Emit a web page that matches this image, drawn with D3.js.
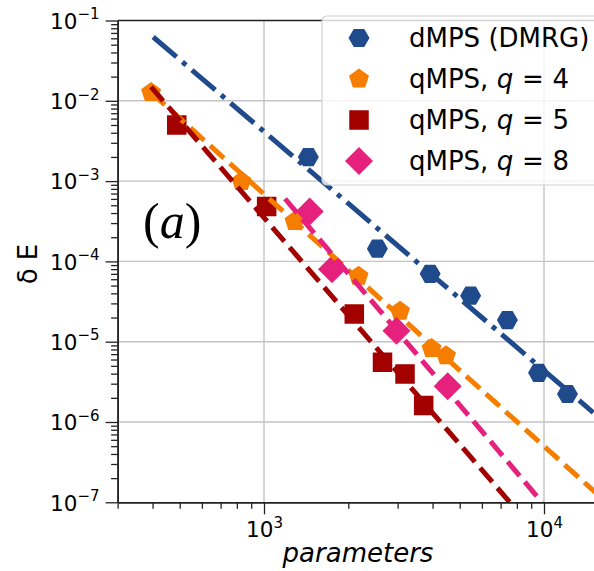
<!DOCTYPE html>
<html>
<head>
<meta charset="utf-8">
<script src="https://cdn.jsdelivr.net/npm/d3@7"></script>
<style>
  body { margin: 0; background: #fff; }
  text { font-family: "DejaVu Sans", sans-serif; fill: #000; }
</style>
</head>
<body>
<div id="chart"></div>
<script>
// values
var dmpsParams = [1440, 2540, 3920, 5470, 7400, 9560, 12130]
var dmpsErr = [1.99e-3, 1.44e-4, 7.0e-5, 3.74e-5, 1.86e-5, 4.1e-6, 2.23e-6]
var q4Params = [395, 831, 1285, 2176, 3060, 3966, 4467]
var q4Err = [1.27e-2, 9.9e-4, 3.15e-4, 6.55e-5, 2.4e-5, 8.2e-6, 6.7e-6]
var q5Params = [488, 1022, 2101, 2650, 3189, 3718]
var q5Err = [5.0e-3, 4.83e-4, 2.22e-5, 5.54e-6, 3.95e-6, 1.6e-6]
var q8Params = [1456, 1749, 2973, 4530]
var q8Err = [4.19e-4, 8.0e-5, 1.37e-5, 2.79e-6]

// power-law fits, as two end points each
var dmpsFitParams = [402, 15000], dmpsFitErr = [6.23e-2, 1.31e-6]
var q4FitParams = [395, 16700], q4FitErr = [1.27e-2, 1e-7]
var q5FitParams = [395, 7550], q5FitErr = [1.49e-2, 1e-7]
var q8FitParams = [1189, 9840], q8FitErr = [6.03e-4, 1e-7]

var yMajor = [1e-1, 1e-2, 1e-3, 1e-4, 1e-5, 1e-6, 1e-7]
var yExp = ["\u22121", "\u22122", "\u22123", "\u22124", "\u22125", "\u22126", "\u22127"]
var xMajor = [1e3, 1e4]
var xExp = ["3", "4"]

var series = [
  { label: "dMPS (DMRG)", q: null, shape: "hexagon", color: "#1f4a8c",
    px: dmpsParams, err: dmpsErr, fitX: dmpsFitParams, fitY: dmpsFitErr, dash: "30.7 7.7 4.8 7.7" },
  { label: "qMPS, ", q: "4", shape: "pentagon", color: "#f57d00",
    px: q4Params, err: q4Err, fitX: q4FitParams, fitY: q4FitErr, dash: "18.5 8" },
  { label: "qMPS, ", q: "5", shape: "square", color: "#a30000",
    px: q5Params, err: q5Err, fitX: q5FitParams, fitY: q5FitErr, dash: "18.5 8" },
  { label: "qMPS, ", q: "8", shape: "diamond", color: "#e6207d",
    px: q8Params, err: q8Err, fitX: q8FitParams, fitY: q8FitErr, dash: "18.5 8" }
]

var W = 594, H = 571
var margin = { top: 20.5, left: 117.6, bottom: 502.3 }

var svg = d3.select("#chart").append("svg")
  .attr("width", W).attr("height", H)

var x = d3.scaleLog().domain([300, 20000])
  .range([margin.left, margin.left + 280 * Math.log10(20000 / 300)])
var y = d3.scaleLog().domain([1e-7, 1e-1]).range([margin.bottom, margin.top])

var plotRight = x.range()[1]

svg.append("clipPath").attr("id", "plotclip")
  .append("rect")
  .attr("x", margin.left).attr("y", margin.top)
  .attr("width", plotRight - margin.left).attr("height", margin.bottom - margin.top)

// minor ticks
var minorY = []
for (var k = -7; k < -1; k++) for (var m = 2; m <= 9; m++) minorY.push(m * Math.pow(10, k))
var minorX = []
for (var k = 2; k < 5; k++) for (var m = 2; m <= 9; m++) {
  var v = m * Math.pow(10, k)
  if (v >= 300 && v <= 20000) minorX.push(v)
}

// grid
var grid = svg.append("g")
grid.selectAll(".gy").data(yMajor.slice(1, -1)).enter().append("line")
  .attr("x1", margin.left).attr("x2", plotRight)
  .attr("y1", function (d) { return y(d) }).attr("y2", function (d) { return y(d) })
  .style("stroke", "#c4c4c4").style("stroke-width", 1.4)
grid.selectAll(".gx").data(xMajor).enter().append("line")
  .attr("y1", margin.top).attr("y2", margin.bottom)
  .attr("x1", function (d) { return x(d) }).attr("x2", function (d) { return x(d) })
  .style("stroke", "#c4c4c4").style("stroke-width", 1.4)

// marker shapes
function shapePath(shape) {
  var n, r, a0
  if (shape === "hexagon") { n = 6; r = 10.5; a0 = 0 }
  else if (shape === "pentagon") { n = 5; r = 10.5; a0 = -Math.PI / 2 }
  else if (shape === "square") { n = 4; r = 13.8; a0 = Math.PI / 4 }
  else { n = 4; r = 14; a0 = 0 }
  var pts = d3.range(n).map(function (i) {
    var a = a0 + i * 2 * Math.PI / n
    return [r * Math.cos(a), r * Math.sin(a)]
  })
  return "M" + pts.join("L") + "Z"
}

var plot = svg.append("g").attr("clip-path", "url(#plotclip)")

series.forEach(function (s) {
  plot.append("g").selectAll("path").data(d3.zip(s.px, s.err)).enter().append("path")
    .attr("d", shapePath(s.shape))
    .attr("transform", function (d) { return "translate(" + x(d[0]) + "," + y(d[1]) + ")" })
    .style("fill", s.color)
})

var line = d3.line().x(function (d) { return x(d[0]) }).y(function (d) { return y(d[1]) })
series.forEach(function (s) {
  plot.append("path")
    .attr("d", line(d3.zip(s.fitX, s.fitY)))
    .style("fill", "none").style("stroke", s.color)
    .style("stroke-width", 5).style("stroke-dasharray", s.dash)
})

// axes
function customAxis(g) {
  g.select(".domain").style("stroke", "#222").style("stroke-width", 1.5)
  g.selectAll(".tick line").style("stroke", "#222").style("stroke-width", 1.3)
}

svg.append("g").attr("transform", "translate(" + margin.left + ",0)")
  .call(d3.axisLeft(y).tickValues(minorY).tickSize(6.5).tickSizeOuter(0).tickFormat(""))
  .call(customAxis)
var yAx = svg.append("g").attr("transform", "translate(" + margin.left + ",0)")
  .call(d3.axisLeft(y).tickValues(yMajor).tickSize(12).tickSizeOuter(0).tickPadding(6).tickFormat(""))
  .call(customAxis)
yAx.selectAll(".tick text").each(function (d, i) {
  var t = d3.select(this).attr("font-size", 21.5).attr("font-family", "DejaVu Sans").attr("dy", "0.36em")
  t.append("tspan").text("10")
  t.append("tspan").attr("dy", -9.5).attr("font-size", 15).text(yExp[i])
})

svg.append("g").attr("transform", "translate(0," + margin.bottom + ")")
  .call(d3.axisBottom(x).tickValues(minorX).tickSize(6.5).tickSizeOuter(0).tickFormat(""))
  .call(customAxis)
var xAx = svg.append("g").attr("transform", "translate(0," + margin.bottom + ")")
  .call(d3.axisBottom(x).tickValues(xMajor).tickSize(12).tickSizeOuter(0).tickPadding(7.5).tickFormat(""))
  .call(customAxis)
xAx.selectAll(".tick text").each(function (d, i) {
  var t = d3.select(this).attr("font-size", 21.5).attr("font-family", "DejaVu Sans")
  t.append("tspan").text("10")
  t.append("tspan").attr("dy", -9.5).attr("font-size", 15).text(xExp[i])
})

// top spine
svg.append("line")
  .attr("x1", margin.left).attr("x2", plotRight)
  .attr("y1", margin.top).attr("y2", margin.top)
  .style("stroke", "#222").style("stroke-width", 1.5)

// axis labels
svg.append("text")
  .attr("transform", "translate(37,264) rotate(-90)")
  .attr("text-anchor", "middle").attr("font-size", 26)
  .text("\u03b4 E")

svg.append("text")
  .attr("x", 358).attr("y", 562)
  .attr("text-anchor", "middle").attr("font-size", 26).attr("font-style", "italic")
  .text("parameters")

// panel tag
var tag = svg.append("text")
  .attr("x", 143).attr("y", 238)
  .attr("font-size", 50).style("font-family", "'Liberation Serif', serif")
tag.append("tspan").text("(")
tag.append("tspan").attr("font-style", "italic").text("a")
tag.append("tspan").text(")")

// legend
var legend = svg.append("g")
legend.append("rect")
  .attr("x", 322).attr("y", 16).attr("width", 300).attr("height", 169).attr("rx", 5)
  .style("fill", "#fff").style("fill-opacity", 0.8)
  .style("stroke", "#d0d0d0").style("stroke-width", 1.2)

var rows = legend.selectAll(".row").data(series).enter().append("g")
  .attr("transform", function (d, i) { return "translate(0," + (38 + i * 41) + ")" })
rows.append("path")
  .attr("d", function (d) { return shapePath(d.shape) })
  .attr("transform", "translate(359,0)")
  .style("fill", function (d) { return d.color })
var lt = rows.append("text")
  .attr("x", 409).attr("y", 9).attr("font-size", 26)
lt.append("tspan").text(function (d) { return d.label })
lt.filter(function (d) { return d.q }).each(function (d) {
  var t = d3.select(this)
  t.append("tspan").attr("font-style", "italic").text("q")
  t.append("tspan").attr("dx", 0.5).text(" =")
  t.append("tspan").attr("dx", 0.5).text(" " + d.q)
})
</script>
</body>
</html>
